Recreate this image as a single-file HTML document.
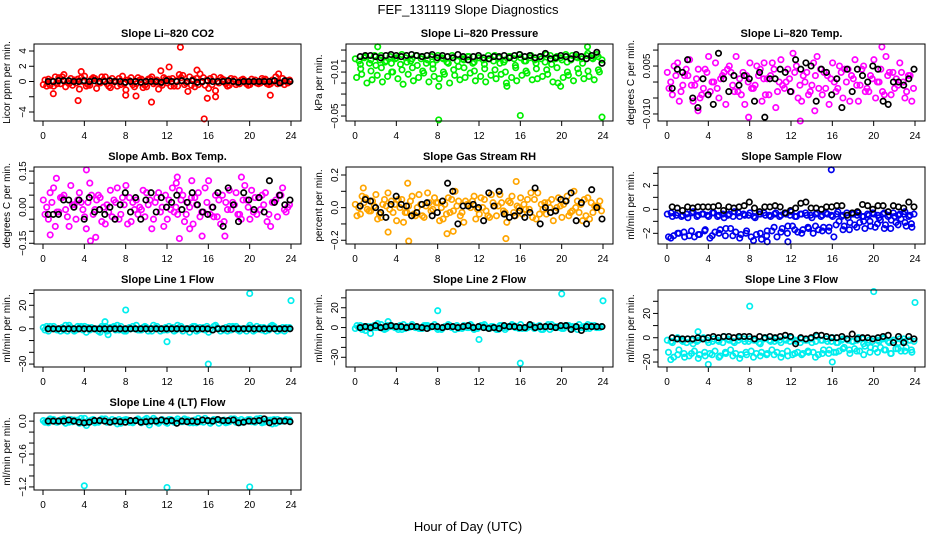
<!DOCTYPE html>
<html><head><meta charset="utf-8"><style>
html,body{margin:0;padding:0;background:#fff;}
svg{display:block;font-family:"Liberation Sans",sans-serif;}
</style></head><body>
<svg id="chart" width="936" height="540" viewBox="0 0 936 540">
<text x="468" y="14" text-anchor="middle" font-size="13">FEF_131119  Slope Diagnostics</text>
<text x="468" y="531" text-anchor="middle" font-size="13">Hour of Day (UTC)</text>
</svg>
<script>
// ---- data ----
const xTicks = [0,4,8,12,16,20,24];

const co2A = [-0.4,0.3,-0.6,0.5,0.9,-0.3,0.2,-1.0,0.7,-0.5,0.4,-0.2,0.6,-0.8,0.1,-0.4,-1.1,0.5,-0.3,0.3,-0.7,0.6,0.2,-0.5,-0.2,0.4,-0.6,0.8,-1.3,0.3,-0.4,0.5,-0.9,0.6,-0.2,0.2,-0.5,0.3,-0.3,0.1,-0.4,0.2,-0.2,0.3,-0.3,0.6,-0.2,0.1];
const co2B = [0.2,-0.5,0.6,-0.3,-0.7,0.4,-0.2,0.5,-0.6,0.3,-0.9,0.6,-0.3,0.4,-0.6,0.7,0.2,-0.4,0.5,-0.8,0.3,-0.3,-1.0,0.5,0.3,-0.6,0.9,-0.4,0.6,-0.7,1.0,-0.5,0.4,-1.2,0.5,-0.3,0.4,-0.4,0.2,-0.3,0.3,-0.2,0.4,-0.3,0.2,-0.3,0.4,-0.2];
const co2C = [-0.6,0.1,-0.3,0.6,-0.1,-0.5,0.3,0.0,-0.4,0.5,-0.2,0.2,-0.6,0.0,0.4,-0.3,0.1,-0.7,0.2,-0.5,0.4,-0.1,-0.3,0.3,-0.6,0.1,0.5,-0.2,-0.5,0.4,-0.1,0.2,-0.4,0.0,0.3,-0.6,0.1,-0.2,0.3,-0.5,0.0,-0.3,0.2,-0.4,0.1,-0.1,-0.4,0.2];
const co2OutX = [13.3,15.6,3.4,10.5,12.2,22,1,15.9,16.7,9,14.9,3.7,22.8,8,11.4];
const co2OutY = [4.5,-4.9,-2.5,-2.7,1.9,-1.8,-1.6,-2.2,-2.0,-1.9,1.5,1.3,1.0,-1.8,1.4];
const co2Blk = [0,0,0.1,0.1,0.1,0,0,0.1,0,0.1,0,0,0.1,0,0,-0.1,0,0,-0.1,0,0,0,-0.1,0.1,0,0,0.1,0,0.1,-0.1,0,0.1,0,0,0,0.1,0,-0.1,0,0,0,0,0,0,0.1,-0.2,0.1,0];

const presA = [.002,-.003,.004,.001,-.004,.005,.000,-.002,.003,.006,-.001,.002,-.004,.004,.001,-.003,.005,.002,-.002,.003,-.005,.001,.004,-.001,.003,-.003,.002,.005,-.002,.001,.004,-.004,.003,.000,.005,-.002,.002,.006,-.003,.004,.001,-.001,.005,.003,-.002,.007,.002,.004];
const presB = [-.015,-.012,-.020,-.017,-.013,-.019,-.014,-.010,-.016,-.021,-.012,-.018,-.015,-.011,-.019,-.014,-.016,-.012,-.020,-.013,-.017,-.015,-.011,-.018,-.014,-.019,-.013,-.016,-.012,-.020,-.015,-.018,-.013,-.011,-.017,-.016,-.014,-.012,-.019,-.020,-.015,-.013,-.018,-.011,-.016,-.014,-.017,-.010];
const presC = [-.007,-.009,-.006,-.010,-.008,-.006,-.009,-.007,-.010,-.008,-.006,-.009,-.007,-.008,-.010,-.006,-.009,-.007,-.008,-.006,-.010,-.007,-.009,-.008];
const presD = [.000,.003,-.002,.005,.001,-.001,.004,.002,-.003,.003,.000,.005,.002,-.002,.004,.001,.003,-.001,.005,.000,.002,.004,-.002,.003,.001,.005,.000,.003,-.001,.004,.002,.006,.000,.003,.001,.004,-.001,.005,.002,.003,.006,.001,.004,.002,.005,.003,.006,.001];
const presOutX = [8.1,16,23.9,2.2,22.5,8.1,19.9,14.7];
const presOutY = [-.0535,-.0495,-.051,.013,.013,-.023,-.023,-.023];
const presBlk = [.004,.005,.005,.004,.003,.005,.006,.005,.004,.005,.006,.005,.004,.005,.006,.003,.005,.004,.003,.006,.004,.001,.004,.005,.003,.002,.004,.004,.005,.003,.005,.006,.004,.005,.003,.004,.007,.002,.003,.005,.004,.002,.006,.004,.002,.005,.008,-.002];

const tempA = [.003,-.004,.006,-.001,.002,-.006,.004,-.002,.008,.000,-.005,.003,.005,-.003,.001,-.007,.006,-.001,.004,-.004,.002,-.008,.007,.000,-.003,.005,-.006,.003,-.001,.008,-.004,.002,.006,-.002,-.005,.004,.001,-.006,.005,-.003,.007,.000,-.004,.003,-.002,.006,-.005,.002];
const tempB = [-.002,.005,-.006,.002,.007,-.001,-.005,.004,-.003,.006,.001,-.007,.003,.008,-.004,.002,-.002,.005,-.006,.001,.006,-.003,-.001,.004,.009,-.005,.002,-.004,.006,-.002,.003,-.007,.000,.005,.004,-.006,.007,-.001,-.003,.002,-.005,.004,.008,-.004,.001,.003,-.003,-.006];
const tempC = [.000,.002,-.003,.004,-.001,.001,-.004,.003,.000,-.002,.002,.004,-.001,-.003,.003,.000,-.002,.002,.001,-.004,.004,.000,-.002,.001,.003,-.001,.000,-.003,.002,.004,-.002,.001,-.003,.003,.000,.002,-.001,.004,-.002,.001,.000,-.003,.002,.003,-.001,.000,.002,-.002];
const tempOutX = [12.9,20.8,7.9,14.3,3,9.4];
const tempOutY = [-.0122,.011,-.011,-.009,-.009,.006];
const tempBlk = [-.002,.004,.003,.007,-.005,-.008,.001,-.004,-.007,.009,.001,-.003,.002,-.001,.002,.001,-.006,.003,-.011,.001,.001,.004,.003,-.003,.007,.004,.006,.005,-.006,.004,.003,-.004,.001,-.008,.004,-.003,.004,.002,.000,.005,.004,-.006,-.007,.000,.000,-.001,.001,.004];

const ambA = [.03,-.05,.08,-.02,.05,-.08,.01,.06,-.04,.10,-.01,.04,-.07,.07,.02,-.03,.09,-.06,.03,-.01,.06,-.09,.04,.00,-.05,.08,-.03,.05,.02,-.07,.06,-.02,.11,-.04,.03,-.06,.07,.01,-.03,.09,-.05,.04,-.01,.06,-.08,.03,.05,-.02];
const ambB = [-.03,.06,-.08,.04,-.01,.09,-.05,.02,-.09,.05,.03,-.06,.01,-.04,.08,.04,-.07,.02,-.03,.07,.01,-.05,.06,-.08,.03,-.02,.07,-.06,.00,.04,-.04,.08,-.03,.05,-.07,.02,-.01,.06,-.05,.03,.07,-.03,.05,-.06,.02,-.04,.08,.00];
const ambC = [.00,.02,-.02,.04,-.04,.01,.03,-.01,.02,-.03,.05,.00,-.02,.03,-.05,.01,.04,-.01,.00,-.04,.03,.02,-.02,.05,-.01,.00,.03,-.03,.04,.01,-.02,.02,.00,-.04,.05,-.01,.02,-.03,.03,.00,-.02,.04,.01,-.03,.02,.05,-.01,.01];
const ambOutX = [4.2,4.6,13.2,13,19.2,1.3,17.6,15.4,0.7,5.1,14.2,12.9,14.4];
const ambOutY = [.155,-.14,-.13,.125,.125,.12,-.12,-.12,-.115,-.125,-.09,.1,.11];
const ambBlk = [-.03,-.03,-.03,.03,.03,.00,.03,-.05,.04,-.02,-.01,-.03,.00,-.05,.01,.06,-.02,.04,-.05,.03,.06,-.02,.04,.00,.02,.05,-.01,.02,.06,.01,-.02,-.03,.00,.06,-.08,.08,.01,-.06,.06,.03,-.01,.04,-.02,.11,.02,.05,.01,.03];

const rhA = [.02,-.04,.06,-.02,.08,-.06,.01,.04,-.08,.05,-.03,.07,.00,-.05,.09,-.01,.03,-.07,.06,-.02,.04,-.09,.02,.07,-.04,.05,-.06,.01,.08,-.03,.03,-.05,.06,-.01,.09,-.07,.02,-.04,.05,.00,-.06,.07,-.02,.04,-.08,.06,-.03,.01];
const rhB = [-.05,.07,-.01,.04,-.07,.02,.09,-.03,.05,-.09,.01,-.04,.08,-.06,.03,.06,-.08,.02,-.03,.10,-.05,.04,.00,-.07,.06,-.02,.08,-.05,.03,-.09,.07,.01,-.04,.05,-.06,.09,-.01,.03,-.08,.06,.02,-.05,.10,-.03,.05,-.07,.01,.04];
const rhC = [.00,.03,-.02,.01,-.04,.05,-.01,.02,.00,-.03,.04,-.05,.02,.01,-.02,.03,.00,-.04,.05,.01,-.03,.02,.04,-.01,.00,-.05,.03,.01,-.02,.04,-.03,.00,.02,-.01,.05,-.04,.03,.00,-.02,.01,.04,-.03,.00,.02,-.05,.03,.01,-.02];
const rhOutX = [5.2,14.6,8.9,9.5,3.2,15.6,5.1,0.8];
const rhOutY = [-.205,-.19,-.16,-.145,-.15,.16,.15,.12];
const rhBlk = [.01,.05,.04,.00,-.03,-.06,.02,.07,.02,.01,-.05,-.03,.02,.03,-.05,-.03,.04,.15,.10,-.10,.01,.01,.02,.00,-.08,.09,.01,.10,-.04,-.06,-.05,-.02,-.06,-.03,.12,-.10,.00,-.03,-.02,.05,.04,.09,-.08,.03,-.10,.11,.00,-.07];

const flowA = [-.4,-.6,-.3,-.5,-.7,-.2,-.5,-.4,-.6,-.3,-.5,-.7,-.4,-.2,-.6,-.5,-.3,-.7,-.4,-.5,-.6,-.3,-.5,-.4,-.2,-.6,-.4,-.5,-.7,-.3,-.5,-.4,-.6,-.2,-.5,-.7,-.4,-.3,-.6,-.5,-.4,-.7,-.3,-.5,-.6,-.4,-.2,-.5];
const flowB = [-2.3,-2.2,-2.0,-1.9,-2.2,-2.3,-2.1,-1.8,-2.4,-1.9,-1.7,-2.2,-1.6,-1.9,-2.1,-2.0,-2.3,-2.1,-2.5,-2.2,-1.8,-2.3,-1.6,-2.0,-1.4,-1.9,-1.7,-1.5,-2.0,-1.7,-1.5,-1.8,-2.3,-1.0,-1.4,-1.7,-1.3,-1.1,-1.6,-1.0,-1.5,-0.9,-1.3,-1.6,-1.1,-0.8,-1.4,-1.2];
const flowC = [-2.4,-2.0,-2.3,-1.8,-2.1,-1.7,-2.2,-2.0,-1.6,-2.2,-2.4,-1.8,-2.6,-2.0,-1.8,-1.5,-1.9,-1.4,-1.7,-2.0,-1.6,-1.4,-1.8,-1.5,-1.3,-1.7,-1.1,-1.5,-1.0,-1.4,-1.2,-1.6,-0.9,-1.3,-1.1,-1.5];
const flowD = [-.3,-.5,-.6,-.4,-.3,-.6,-.4,-.5,-.3,-.6,-.4,-.5,-.6,-.3,-.4,-.5,-.6,-.4,-.3,-.5,-.4,-.6,-.3,-.5,-.6,-.4,-.3,-.5,-.4,-.6,-.3,-.5,-.4,-.6,-.3,-.4,-.5,-.6,-.4,-.3,-.5,-.4,-.6,-.3,-.5,-.4,-.6,-.4];
const flowOutX = [15.9,11.7,9.7];
const flowOutY = [3.3,-2.7,-2.7];
const flowBlk = [.2,.1,-.1,.2,.1,.2,.2,.2,.2,.3,-.1,.2,.1,.2,.3,.6,.1,-.2,.2,.2,.3,.2,-.3,-.1,.1,.5,.6,.1,.1,.0,.2,.2,.3,.3,-.5,-.3,-.2,.4,.3,.0,.3,.3,-.2,.3,.2,.1,.6,.2];

const l1A = [1,-2,2,0,-1,3,-2,1,2,-1,0,-3,2,1,-1,2,-2,0,3,-1,1,-2,2,0,-1,1,3,-2,0,2,-1,1,-3,2,0,-1,2,1,-2,0,3,-1,1,-2,2,0,-1,1];
const l1B = [-1,2,0,-2,3,1,-1,2,-3,1,0,2,-2,1,3,-1,0,2,-1,1,-2,3,0,-1,2,-2,1,0,-3,2,1,-1,0,3,-2,1,-1,2,0,-2,1,2,-1,0,3,-2,1,0];
const l1C = [2,0,-1,1,-2,0,2,-1,1,0,-2,1,0,2,-1,-2,1,0,-1,2,0,1,-2,1,0,-1,2,0,1,-2,0,2,-1,1,0,-2,2,-1,0,1,-2,0,1,-1,2,0,-2,1];
const l1OutX = [20,24,8,12,16,6,6.3];
const l1OutY = [30,24,16,-11,-30,6,-5];
const l1Blk = [0,0,0,0,0,0,0,0,0,0,0,0,0,0,0,0,0,0,0,0,0,0,0,0,0,0,0,0,0,0,0,0,-1,0,0,0,0,0,0,0,0,0,0,0,0,0,0,0];

const l2A = [-1,2,-3,1,0,3,-1,2,0,-2,1,3,0,-1,2,1,-2,0,3,1,-1,2,0,-2,1,3,-1,0,2,-2,1,0,3,-1,2,0,-2,1,3,0,-1,2,1,-2,0,3,1,0];
const l2B = [2,-2,1,0,4,-1,2,1,-2,3,0,1,-1,2,0,3,-1,1,2,-2,0,1,3,-1,2,0,1,-2,2,0,3,1,-1,0,2,1,-2,3,0,1,-1,2,0,3,1,-1,2,0];
const l2C = [0,1,-1,2,0,-2,1,0,2,-1,1,0,-1,2,1,0,-2,1,0,2,-1,0,1,-1,2,0,1,-2,0,1,2,-1,0,1,-1,2,0,-2,1,0,2,-1,1,0,-1,2,0,1];
const l2OutX = [20,24,8,12,16,1.5,3.2];
const l2OutY = [34,27,17,-12,-36,-6,6];
const l2Blk = [0,1,0,2,0,1,2,1,1,0,1,1,0,-1,1,1,0,1,1,0,1,2,0,1,0,-1,0,-1,2,1,1,0,0,3,0,1,1,1,0,2,2,-2,1,-3,1,1,1,1];

const l3A = [-2,-4,0,-3,-1,-5,-2,0,-4,-1,-3,1,-2,-4,0,-3,-1,-2,-5,0,-3,-1,-4,-2,0,-3,-1,-2,-4,1,-2,-3,0,-4,-1,-2,-3,0,-5,-2,-1,-3,0,-4,-2,-1,-3,-2];
const l3B = [-12,-16,-10,-13,-15,-11,-14,-12,-13,-11,-15,-12,-10,-13,-14,-12,-11,-13,-12,-14,-10,-12,-13,-11,-14,-12,-13,-11,-12,-14,-10,-13,-12,-11,-8,-10,-9,-11,-7,-12,-9,-8,-10,-13,-9,-11,-8,-10];
const l3C = [-18,-14,-16,-13,-17,-15,-14,-16,-13,-15,-17,-14,-16,-15,-13,-14,-16,-15,-13,-14,-12,-16,-13,-10,-12,-9,-13,-11,-14,-8,-12,-10,-13,-9,-11,-12];
const l3D = [-3,-1,-2,-4,-2,-3,-1,-2,-3,-2,-4,-1,-3,-2,-1,-3,-2,-4,-1,-2,-3,-2,-1,-3,-2,-4,-2,-1,-3,-2,-1,-3,-4,-2,-1,-3,-2,-1,-4,-3,-2,-1,-3,-2,-4,-1,-2,-3];
const l3OutX = [20,24,8,16,4,3];
const l3OutY = [38,29,26,-20,-22,5];
const l3Blk = [0,-1,-1,-1,-1,0,-1,0,1,0,1,1,0,1,1,1,-1,1,0,1,0,1,2,1,-5,0,-1,0,2,2,1,0,0,1,-1,3,-1,0,0,-1,0,1,2,-4,1,-4,1,-1];

const l4A = [.01,-.03,.03,-.01,.04,-.02,.02,-.04,.05,.00,-.03,.02,.04,-.02,.01,-.04,.03,-.01,.02,-.03,.05,.00,-.02,.03,-.04,.01,.04,-.01,.02,-.03,.05,-.02,.01,.03,-.04,.02,-.01,.04,-.03,.00,.03,-.02,.05,-.01,.02,-.04,.01,.03];
const l4B = [-.02,.04,-.01,.02,-.04,.03,.00,.05,-.03,.02,-.01,.04,-.02,.03,-.05,.01,.02,-.03,.04,.00,-.02,.05,-.04,.01,.03,-.02,.00,.04,-.03,.02,-.01,.05,-.04,.02,.01,-.03,.04,-.02,.03,.00,-.01,.04,-.03,.02,-.05,.03,.00,.02];
const l4C = [.00,.02,-.02,.03,.01,-.01,.02,-.03,.00,.03,-.02,.01,.00,-.01,.03,.02,-.02,.00,.01,.03,-.01,.02,.00,-.02,.03,.01,-.01,.02,.00,-.03,.02,.01,-.01,.03,.00,-.02,.02,.01,-.01,.03,.00,.02,-.02,.01,.03,-.01,.00,.02];
const l4OutX = [4,12,20,4.2,10.3];
const l4OutY = [-1.18,-1.21,-1.2,-.08,-.07];
const l4Blk = [0,0,0,0,.02,0,-.02,-.03,-.02,.01,.01,.0,-.02,0,-.01,-.02,.01,.01,-.02,-.01,0,0,.02,0,.01,-.04,0,-.01,0,-.01,.02,.01,0,.03,.01,.01,.02,-.03,-.02,0,0,.01,.04,-.03,0,0,0,-.01];

// ---- layout ----
const svg = document.getElementById('chart');
const NS = 'http://www.w3.org/2000/svg';
function mk(tag, attrs, parent){
  const e = document.createElementNS(NS, tag);
  for (const k in attrs) e.setAttribute(k, attrs[k]);
  parent.appendChild(e);
  return e;
}
const colL = [34, 346, 658];
const rowT = [44, 167, 290, 413];
const W = 267, H = 77;

function panel(cfg){
  const L = colL[cfg.col], T = rowT[cfg.row], B = T + H;
  const g = mk('g', {}, svg);
  
  
  const xs = h => L + 9 + h * (248 / 24);
  const ys = v => T + (cfg.ymax - v) / (cfg.ymax - cfg.ymin) * H;
  const t = mk('text', {x: L + W/2, y: T - 7, 'text-anchor':'middle', 'font-size':'11', 'font-weight':'bold'}, g);
  
  
  t.textContent = cfg.title;
  const yl = mk('text', {x: 0, y: 0, 'text-anchor':'middle', 'font-size':'10', transform:`translate(${L-24},${T+H/2}) rotate(-90)`}, g);
  
  
  yl.textContent = cfg.ylab;
  const xa = mk('g', {}, g);
  
  
  mk('line', {x1: xs(0), x2: xs(24), y1: B, y2: B, stroke:'#000'}, xa);
  xTicks.forEach(h => {
    mk('line', {x1: xs(h), x2: xs(h), y1: B, y2: B + 5, stroke:'#000'}, xa);
    const tl = mk('text', {x: xs(h), y: B + 18, 'text-anchor':'middle', 'font-size':'10'}, xa);
    
    
    tl.textContent = h;
  });
  const ya = mk('g', {}, g);
  
  
  cfg.yticks.forEach(v => {
    mk('line', {x1: L - 5, x2: L, y1: ys(v), y2: ys(v), stroke:'#000'}, ya);
  });
  cfg.ylabels.forEach(v => {
    const tl = mk('text', {x: 0, y: 0, 'text-anchor':'middle', 'font-size':'10', transform:`translate(${L-8},${ys(v)}) rotate(-90)`}, ya);
    
    
    tl.textContent = String(v).replace('-', '\u2212');
  });
  const pts = mk('g', {}, g);
  
  
  function dot(h, v, col){
    const c = mk('circle', {cx: xs(h).toFixed(1), cy: ys(v).toFixed(1), r: 2.7, fill:'none', stroke: col, 'stroke-width': 1.7}, pts);
    
    
  }
  cfg.series.forEach((arr, si) => {
    const off = si / cfg.series.length;
    arr.forEach((v, i) => dot((i + off + 0.05) * 24 / arr.length, v, cfg.color));
  });
  cfg.outX.forEach((h, i) => dot(h, cfg.outY[i], cfg.color));
  cfg.blk.forEach((v, i) => dot(0.5 + i * 23.4 / (cfg.blk.length - 1), v, '#000'));
  const bx = mk('rect', {x: L, y: T, width: W, height: H, fill:'none', stroke:'#000'}, g);
  
  
}

panel({name:'panel-co2', col:0,row:0,title:'Slope Li\u2013820 CO2',ylab:'Licor ppm per min.',ymin:-5.18,ymax:4.92,yticks:[-4,-2,0,2,4],ylabels:[-4,0,2,4],color:'#ff0000',series:[co2A,co2B,co2C],outX:co2OutX,outY:co2OutY,blk:co2Blk});
panel({name:'panel-pressure', col:1,row:0,title:'Slope Li\u2013820 Pressure',ylab:'kPa per min.',ymin:-0.0545,ymax:0.0155,yticks:[-0.05,-0.04,-0.03,-0.02,-0.01,0,0.01],ylabels:[-0.05,-0.01],color:'#00ee00',series:[presA,presB,presC,presD],outX:presOutX,outY:presOutY,blk:presBlk});
panel({name:'panel-temp', col:2,row:0,title:'Slope Li\u2013820 Temp.',ylab:'degrees C per min.',ymin:-0.0122,ymax:0.0119,yticks:[-0.01,-0.005,0,0.005,0.01],ylabels:['-0.010','0.005'],color:'#ff00ff',series:[tempA,tempB,tempC],outX:tempOutX,outY:tempOutY,blk:tempBlk});
panel({name:'panel-amb-temp', col:0,row:1,title:'Slope Amb. Box Temp.',ylab:'degrees C per min.',ymin:-0.153,ymax:0.167,yticks:[-0.15,-0.1,-0.05,0,0.05,0.1,0.15],ylabels:['-0.15','0.00','0.15'],color:'#ff00ff',series:[ambA,ambB,ambC],outX:ambOutX,outY:ambOutY,blk:ambBlk});
panel({name:'panel-rh', col:1,row:1,title:'Slope Gas Stream RH',ylab:'percent per min.',ymin:-0.223,ymax:0.249,yticks:[-0.2,-0.1,0,0.1,0.2],ylabels:['-0.2','0.0','0.2'],color:'#ffa500',series:[rhA,rhB,rhC],outX:rhOutX,outY:rhOutY,blk:rhBlk});
panel({name:'panel-sample-flow', col:2,row:1,title:'Slope Sample Flow',ylab:'ml/min per min.',ymin:-2.89,ymax:3.53,yticks:[-2,-1,0,1,2,3],ylabels:[-2,0,2],color:'#0000ee',series:[flowA,flowB,flowC,flowD],outX:flowOutX,outY:flowOutY,blk:flowBlk});
panel({name:'panel-line1', col:0,row:2,title:'Slope Line 1 Flow',ylab:'ml/min per min.',ymin:-32.5,ymax:33,yticks:[-30,-20,-10,0,10,20,30],ylabels:[-30,0,20],color:'#00eeee',series:[l1A,l1B,l1C],outX:l1OutX,outY:l1OutY,blk:l1Blk});
panel({name:'panel-line2', col:1,row:2,title:'Slope Line 2 Flow',ylab:'ml/min per min.',ymin:-39.8,ymax:37.9,yticks:[-30,-20,-10,0,10,20,30],ylabels:[-30,0,20],color:'#00eeee',series:[l2A,l2B,l2C],outX:l2OutX,outY:l2OutY,blk:l2Blk});
panel({name:'panel-line3', col:2,row:2,title:'Slope Line 3 Flow',ylab:'ml/min per min.',ymin:-24.1,ymax:39.3,yticks:[-20,-10,0,10,20,30],ylabels:[-20,0,20],color:'#00eeee',series:[l3A,l3B,l3C,l3D],outX:l3OutX,outY:l3OutY,blk:l3Blk});
panel({name:'panel-line4', col:0,row:3,title:'Slope Line 4 (LT) Flow',ylab:'ml/min per min.',ymin:-1.256,ymax:0.148,yticks:[0,-0.2,-0.4,-0.6,-0.8,-1.0,-1.2],ylabels:['0.0','-0.6','-1.2'],color:'#00eeee',series:[l4A,l4B,l4C],outX:l4OutX,outY:l4OutY,blk:l4Blk});
</script>
</body></html>
